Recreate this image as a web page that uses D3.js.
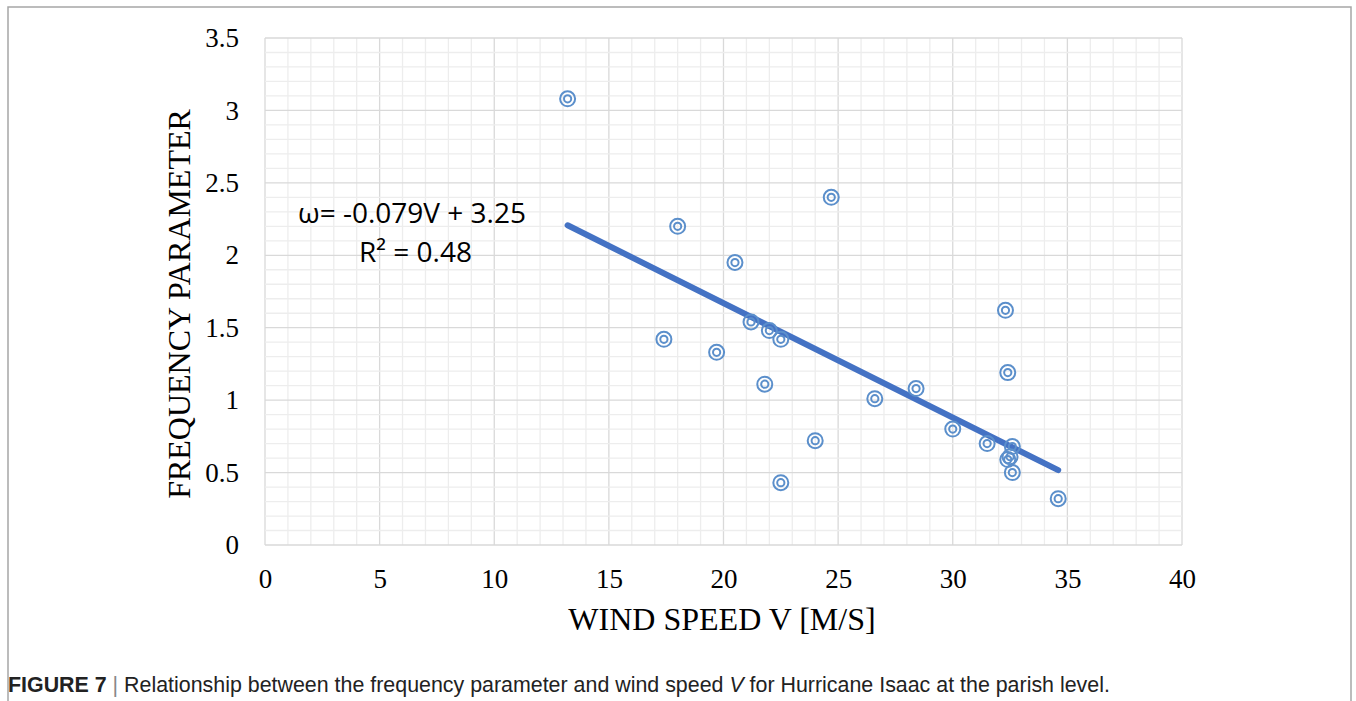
<!DOCTYPE html>
<html>
<head>
<meta charset="utf-8">
<script src="https://cdn.jsdelivr.net/npm/d3@7"></script>
<style>
  body { margin: 0; background: #fff; }
  svg { display: block; }
</style>
</head>
<body>
<div id="chart-container"></div>
<script>
// wind speed V (m/s) and frequency parameter
const windSpeed = [13.2, 18.0, 24.7, 20.5, 17.4, 19.7, 21.2, 22.0, 22.5, 21.8, 24.0, 22.5,
  26.6, 28.4, 30.0, 31.5, 32.3, 32.4, 32.6, 32.4, 32.5, 32.6, 34.6];
const freqParam = [3.08, 2.20, 2.40, 1.95, 1.42, 1.33, 1.54, 1.48, 1.42, 1.11, 0.72, 0.43,
  1.01, 1.08, 0.80, 0.70, 1.62, 1.19, 0.68, 0.59, 0.61, 0.50, 0.32];
const xTicks = [0, 5, 10, 15, 20, 25, 30, 35, 40];
const yTicks = [0, 0.5, 1, 1.5, 2, 2.5, 3, 3.5];
const slope = -0.079;
const intercept = 3.25;
const rSquared = 0.48;

const width = 1356, height = 701;

const svg = d3.select("#chart-container")
  .append("svg")
  .attr("width", width)
  .attr("height", height);

// outer frame
svg.append("rect")
  .attr("x", 8).attr("y", 7)
  .attr("width", 1343).attr("height", 720)
  .attr("fill", "none")
  .attr("stroke", "#a6a6a6")
  .attr("stroke-width", 1.5);

const xScale = d3.scaleLinear().domain([0, 40]).range([265, 1182]);
const yScale = d3.scaleLinear().domain([0, 3.5]).range([545, 38]);

// grid: minor every 1 / 0.1, major every 5 / 0.5
const grid = svg.append("g");
grid.selectAll(".v")
  .data(d3.range(0, 41, 1))
  .enter().append("line")
  .attr("x1", d => xScale(d)).attr("x2", d => xScale(d))
  .attr("y1", yScale(0)).attr("y2", yScale(3.5))
  .attr("stroke", d => d % 5 === 0 ? "#d9d9d9" : "#ededed")
  .attr("stroke-width", 1.3);

grid.selectAll(".h")
  .data(d3.range(0, 36, 1).map(d => d / 10))
  .enter().append("line")
  .attr("x1", xScale(0)).attr("x2", xScale(40))
  .attr("y1", d => yScale(d)).attr("y2", d => yScale(d))
  .attr("stroke", (d, i) => i % 5 === 0 ? "#d9d9d9" : "#ededed")
  .attr("stroke-width", 1.3);

// axes (labels only, Excel style)
const xAxis = d3.axisBottom(xScale).tickValues(xTicks).tickSize(0).tickPadding(24);
const yAxis = d3.axisLeft(yScale).tickValues(yTicks).tickSize(0).tickPadding(26)
  .tickFormat(d => String(d));

const gx = svg.append("g")
  .attr("transform", `translate(0, ${yScale(0)})`)
  .call(xAxis);
const gy = svg.append("g")
  .attr("transform", `translate(${xScale(0)}, 0)`)
  .call(yAxis);

[gx, gy].forEach(g => {
  g.select(".domain").remove();
  g.selectAll("text")
    .attr("font-family", "'Liberation Serif', serif")
    .attr("font-size", 27)
    .attr("fill", "#000");
});

// trend line
const xMin = d3.min(windSpeed), xMax = d3.max(windSpeed);
svg.append("line")
  .attr("x1", xScale(xMin)).attr("y1", yScale(slope * xMin + intercept))
  .attr("x2", xScale(xMax)).attr("y2", yScale(slope * xMax + intercept))
  .attr("stroke", "#4472c4")
  .attr("stroke-width", 6)
  .attr("stroke-linecap", "round");

// points (double circle markers)
const pts = svg.append("g")
  .selectAll("g")
  .data(windSpeed.map((v, i) => ({ v: v, w: freqParam[i] })))
  .enter().append("g")
  .attr("transform", d => `translate(${xScale(d.v)}, ${yScale(d.w)})`);

pts.append("circle")
  .attr("r", 7.5)
  .attr("fill", "none")
  .attr("stroke", "#5b8fcb")
  .attr("stroke-width", 2);
pts.append("circle")
  .attr("r", 3.6)
  .attr("fill", "none")
  .attr("stroke", "#5b8fcb")
  .attr("stroke-width", 2);

// equation label
svg.append("text")
  .attr("x", 298).attr("y", 223)
  .attr("font-family", "'Open Sans', sans-serif")
  .attr("font-size", 28)
  .attr("fill", "#000")
  .text(`ω= ${slope}V + ${intercept}`);
svg.append("text")
  .attr("x", 359).attr("y", 262)
  .attr("font-family", "'Open Sans', sans-serif")
  .attr("font-size", 28)
  .attr("fill", "#000")
  .text(`R² = ${rSquared}`);

// axis titles
svg.append("text")
  .attr("x", 722).attr("y", 630)
  .attr("text-anchor", "middle")
  .attr("font-family", "'Liberation Serif', serif")
  .attr("font-size", 32)
  .attr("fill", "#000")
  .text("WIND SPEED V [M/S]");

svg.append("text")
  .attr("transform", "rotate(-90)")
  .attr("x", -304).attr("y", 190)
  .attr("text-anchor", "middle")
  .attr("font-family", "'Liberation Serif', serif")
  .attr("font-size", 32)
  .attr("fill", "#000")
  .text("FREQUENCY PARAMETER");

// caption
const cap = svg.append("text")
  .attr("x", 8).attr("y", 692)
  .attr("font-family", "'Liberation Sans', sans-serif")
  .attr("font-size", 21.4)
  .attr("fill", "#222");
cap.append("tspan").attr("font-weight", "bold").text("FIGURE 7");
cap.append("tspan").attr("fill", "#888").text(" | ");
cap.append("tspan").text("Relationship between the frequency parameter and wind speed ");
cap.append("tspan").attr("font-style", "italic").text("V");
cap.append("tspan").text(" for Hurricane Isaac at the parish level.");
</script>
</body>
</html>
